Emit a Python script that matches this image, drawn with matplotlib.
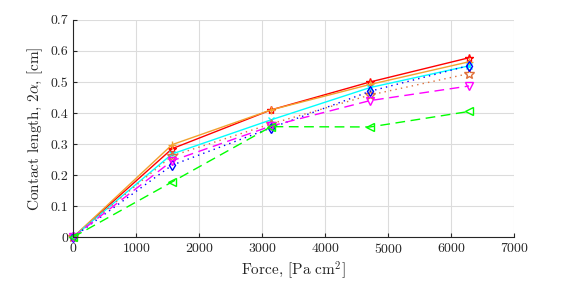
import numpy as np
import matplotlib
matplotlib.use("Agg")
import matplotlib.pyplot as plt

plt.rcParams["font.family"] = "cmr10"
plt.rcParams["mathtext.fontset"] = "cm"
plt.rcParams["axes.formatter.use_mathtext"] = True

force = [0, 1570.8, 3141.6, 4712.4, 6283.2]

red_vals = [0, 0.285, 0.41, 0.50, 0.578]
orange_vals = [0, 0.298, 0.41, 0.492, 0.565]
cyan_vals = [0, 0.268, 0.378, 0.482, 0.552]
coral_vals = [0, 0.262, 0.365, 0.458, 0.527]
blue_vals = [0, 0.232, 0.352, 0.470, 0.553]
magenta_vals = [0, 0.246, 0.358, 0.440, 0.487]
green_vals = [0, 0.178, 0.356, 0.355, 0.405]

series = [
    (red_vals, "#FF0000", "-", "*", 6),
    (orange_vals, "#F2A22E", "-", "+", 6),
    (cyan_vals, "#00FFFF", "-", "x", 5),
    (coral_vals, "#E0703A", (0, (1, 3)), "*", 7),
    (blue_vals, "#0000FF", (0, (1, 3)), "d", 5),
    (magenta_vals, "#FF00FF", (0, (7, 4)), "v", 6),
    (green_vals, "#00FF00", (0, (7, 4)), "<", 6),
]

fig = plt.figure(figsize=(5.67, 2.84), dpi=100)
ax = fig.add_axes([0.129, 0.165, 0.778, 0.765])

for vals, col, ls, mk, ms in series:
    ax.plot(force, vals, color=col, ls=ls, marker=mk, lw=1.0, ms=ms,
            markerfacecolor="none", markeredgewidth=1.0, clip_on=False)

ax.set_xlim(0, 7000)
ax.set_ylim(0, 0.7)
ax.set_xticks(np.arange(0, 7001, 1000))
ax.set_yticks(np.arange(0, 0.71, 0.1))
ax.set_yticklabels(["0", "0.1", "0.2", "0.3", "0.4", "0.5", "0.6", "0.7"])
ax.grid(True, color="#dcdcdc", lw=0.8)
ax.set_axisbelow(True)
ax.spines["top"].set_visible(False)
ax.spines["right"].set_visible(False)
for s in ("left", "bottom"):
    ax.spines[s].set_color("#262626")
    ax.spines[s].set_linewidth(0.8)
ax.tick_params(direction="in", length=3, labelsize=10, colors="#262626",
               top=False, right=False)

ax.set_xlabel(r"Force, [Pa cm$^2$]", fontsize=11, color="#262626", labelpad=2)
ax.set_ylabel(r"Contact length, 2$\alpha$, [cm]", fontsize=11, color="#262626", labelpad=4)

fig.savefig("out.png", dpi=100)
